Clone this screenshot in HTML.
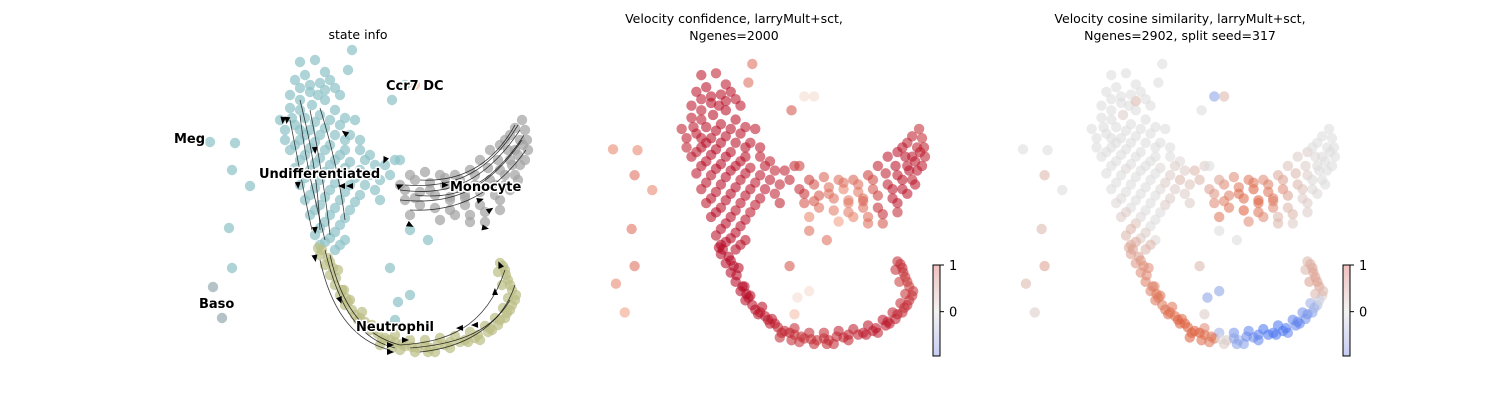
<!DOCTYPE html>
<html><head><meta charset="utf-8">
<style>
body{margin:0;background:#fff;}
svg{display:block;font-family:"DejaVu Sans","Liberation Sans",sans-serif;}
.lbl{font-weight:bold;font-size:13px;fill:#000;stroke:#fff;stroke-width:3px;paint-order:stroke;stroke-linejoin:round;}
.ttl{font-size:12.5px;fill:#000;text-anchor:middle;}
.tk{font-size:13px;fill:#000;}
</style></head>
<body>
<svg id="chart" width="1500" height="400" viewBox="0 0 1500 400" xmlns="http://www.w3.org/2000/svg">
<text class="ttl" x="358" y="39">state info</text>
<text class="ttl" x="734" y="23">Velocity confidence, larryMult+sct,</text>
<text class="ttl" x="734" y="40">Ngenes=2000</text>
<text class="ttl" x="1180" y="23">Velocity cosine similarity, larryMult+sct,</text>
<text class="ttl" x="1180" y="40">Ngenes=2902, split seed=317</text>
<g id="p1"></g>
<g id="streams"></g>
<g id="p2"></g>
<g id="p3"></g>
<g id="labels"></g>
<g id="cbars"></g>
</svg>
<script>
// embedding coordinates (units) and per-cell values: x y cluster confidence cosine
const cellData = `
300 62 U .9 .05;305 75 U .95 .1;310 85 U .95 0;325 72 U .9 .05;330 80 U .95 .1;318 95 U .95 0;300 100 U .9 .05;290 108 U .9 0;312 105 U .95 .2;325 100 U .95 .05;340 95 U .9 .1;335 110 U .95 0;320 115 U .95 .05;305 118 U .95 .1;295 125 U .9 0;285 130 U .9 .05;310 130 U .95 0;325 128 U .95 .1;340 125 U .95 .05;350 135 U .9 .1;300 140 U .95 0;315 142 U .97 .05;330 145 U .95 .1;345 150 U .95 .05;290 150 U .9 0;305 155 U .95 .1;320 158 U .97 0;335 160 U .95 .05;350 162 U .9 .15;365 160 U .9 .2;375 165 U .85 .2;295 168 U .9 .1;310 170 U .95 .05;325 172 U .97 0;340 175 U .95 .1;355 178 U .9 .2;300 185 U .9 .1;315 188 U .95 .05;330 190 U .97 .1;345 192 U .95 .1;360 195 U .9 .2;375 190 U .85 .2;305 200 U .9 .15;320 205 U .95 .1;335 208 U .95 .05;350 210 U .9 .1;310 215 U .95 .2;325 222 U .97 .25;340 225 U .95 .1;315 235 U .95 .3;330 238 U .97 .2;345 240 U .95 .15;320 245 U .97 .35;335 250 U .97 .3;300 110 U .9 0;355 120 U .9 .05;345 140 U .95 .1;280 120 U .85 .05;290 95 U .9 0;315 60 U .85 .05;325 90 U .95 .3;360 150 U .9 .1;370 175 U .9 .3;385 165 U .85 .3;380 200 U .85 .2;395 160 U .8 .2;
295 80 U .9 .05;310 92 U .95 .1;320 83 U .95 0;335 88 U .9 .05;300 88 U .9 .1;292 118 U .9 .05;315 122 U .97 0;330 120 U .95 .1;345 118 U .9 .05;305 135 U .97 .05;320 135 U .97 .1;335 135 U .95 0;295 145 U .9 .1;310 148 U .97 .05;325 150 U .97 .1;340 155 U .95 .05;300 160 U .95 .1;315 163 U .97 .15;330 165 U .97 .05;345 168 U .95 .1;360 170 U .9 .2;305 178 U .95 .1;320 180 U .97 .05;335 183 U .97 .1;350 185 U .95 .15;365 185 U .9 .2;310 195 U .95 .15;325 197 U .97 .1;340 200 U .95 .1;355 202 U .9 .2;315 210 U .97 .2;330 215 U .97 .15;345 218 U .95 .1;320 228 U .97 .3;335 232 U .97 .2;325 242 U .97 .35;340 245 U .95 .3;300 130 U .9 .05;285 140 U .85 .05;360 140 U .9 .1;370 155 U .85 .15;380 180 U .85 .25;390 175 U .85 .3;
352 50 U .5 .05;348 70 U .5 .05;392 100 U .6 .1;405 85 U .1 -.4;210 142 U .4 .05;235 143 U .4 .05;250 186 U .4 .05;232 170 U .5 .3;229 228 U .5 .3;232 268 U .5 .4;213 287 B .4 .3;222 318 B .3 .2;400 160 U .7 .1;390 268 U .6 .3;428 240 U .5 .1;410 230 U .5 .1;398 302 U .1 -.4;410 295 U .1 -.4;395 320 U .2 .2;415 85 C .1 .3;
400 185 M .8 .4;415 180 M .6 .5;430 183 M .5 .6;445 185 M .4 .7;460 188 M .45 .6;475 185 M .6 .5;490 180 M .85 .3;500 170 M .9 .2;510 160 M .9 .15;515 150 M .9 .1;520 140 M .85 .05;525 130 M .8 .05;522 120 M .8 .05;510 135 M .85 .1;500 145 M .9 .2;490 150 M .9 .2;480 160 M .85 .25;470 170 M .7 .35;455 175 M .55 .5;440 175 M .5 .6;425 172 M .55 .5;410 175 M .7 .4;405 200 M .6 .5;420 205 M .5 .6;435 208 M .45 .7;450 210 M .45 .6;465 205 M .5 .5;480 205 M .8 .3;495 195 M .9 .2;505 185 M .9 .15;515 175 M .85 .1;520 165 M .9 .1;528 150 M .85 .05;410 215 M .4 .6;440 220 M .3 .5;470 215 M .5 .3;485 222 M .6 .2;500 210 M .8 .2;
405 190 M .75 .45;420 192 M .6 .55;435 195 M .5 .65;450 197 M .45 .7;465 195 M .5 .6;480 192 M .7 .4;495 185 M .9 .25;505 175 M .92 .15;512 165 M .92 .1;518 155 M .9 .1;523 145 M .88 .05;508 150 M .92 .15;498 160 M .92 .2;488 168 M .85 .3;475 175 M .65 .4;460 180 M .5 .55;445 178 M .5 .6;430 190 M .5 .65;450 200 M .45 .65;465 198 M .55 .55;485 212 M .8 .3;470 222 M .5 .3;455 215 M .4 .5;415 198 M .6 .55;500 200 M .9 .2;510 190 M .9 .15;518 180 M .9 .1;525 160 M .88 .05;527 140 M .85 .05;515 128 M .85 .05;505 140 M .9 .1;
320 255 N .97 .4;325 265 N .97 .45;330 275 N .97 .5;335 285 N .97 .55;340 295 N .97 .55;345 305 N .95 .6;355 315 N .95 .65;365 322 N .9 .65;375 330 N .85 .7;385 338 N .85 .7;395 342 N .8 .65;405 346 N .75 .6;418 348 N .75 .2;430 348 N .8 -.3;445 345 N .85 -.5;460 342 N .85 -.7;475 338 N .9 -.7;488 332 N .9 -.6;498 325 N .85 -.5;505 318 N .8 -.4;510 310 N .8 -.2;515 300 N .75 .2;512 290 N .7 .4;508 280 N .75 .4;505 270 N .8 .4;500 263 N .8 .3;328 258 N .97 .4;338 270 N .97 .5;350 300 N .95 .6;362 312 N .95 .6;372 325 N .9 .65;395 335 N .8 .5;410 340 N .8 -.3;425 340 N .8 -.5;440 338 N .85 -.6;455 336 N .85 -.7;470 332 N .9 -.7;485 326 N .9 -.6;495 318 N .85 -.5;503 308 N .8 -.3;508 298 N .75 .3;502 285 N .7 .4;498 272 N .8 .3;318 248 N .97 .35;344 290 N .97 .55;380 345 N .8 .7;400 350 N .75 .6;435 352 N .8 -.4;480 340 N .85 -.6;
322 250 N .97 .4;330 262 N .97 .45;336 278 N .97 .5;342 290 N .97 .55;348 302 N .96 .6;352 310 N .95 .6;360 318 N .92 .65;368 326 N .9 .7;378 334 N .85 .7;390 340 N .82 .7;402 344 N .78 .6;412 347 N .76 .1;425 346 N .8 -.4;438 344 N .82 -.55;450 342 N .85 -.65;465 340 N .88 -.7;478 335 N .9 -.7;490 328 N .88 -.6;500 320 N .85 -.5;507 313 N .8 -.3;512 305 N .78 -.1;516 295 N .75 .3;510 285 N .72 .4;506 275 N .78 .4;503 266 N .8 .35;333 268 N .97 .5;346 298 N .96 .6;358 320 N .92 .65;370 330 N .88 .7;382 340 N .84 .7;392 348 N .8 .65;415 352 N .78 .2;428 352 N .8 -.4;450 348 N .84 -.6;468 342 N .88 -.7;492 330 N .88 -.6`;
const labelNames = ["Ccr7 DC","Meg","Undifferentiated","Monocyte","Baso","Neutrophil"];
const labelX = [386,174,259,450,199,356];
const labelY = [85,138,173,186,303,326];
const cbTicks = [1,0];
const cbMin = -0.95, cbMax = 1;

const cells = cellData.trim().split(";").map(s=>s.trim()).filter(s=>s).map(s=>{const a=s.split(/\s+/);return {x:+a[0],y:+a[1],c:a[2],conf:+a[3],cos:+a[4]};});
const NS="http://www.w3.org/2000/svg";
function mk(tag,attrs,parent){const e=document.createElementNS(NS,tag);for(const k in attrs)e.setAttribute(k,attrs[k]);parent.appendChild(e);return e;}
const ax = [
  {x:v=>v, y:v=>v},
  {x:v=>613+(v-210)*0.981, y:v=>64+(v-50)*0.927},
  {x:v=>1023+(v-210)*0.981, y:v=>64+(v-50)*0.927}
];
const catCol={U:"#8fc3c9",M:"#a3a3a3",N:"#bcbf86",B:"#98aab2",C:"#f4bd9f"};
function lerp(a,b,t){return a.map((v,i)=>Math.round(v+(b[i]-v)*t));}
function rdbu(v){
  const s=[[247,247,247],[240,150,120],[205,70,65],[180,5,35]];
  if(v<0){return "rgb("+lerp([247,247,247],[120,150,220],Math.min(1,-v)).join(",")+")";}
  const u=Math.min(1,v)*3, i=Math.min(2,Math.floor(u));return "rgb("+lerp(s[i],s[i+1],u-i).join(",")+")";
}
function coolwarm(v){
  const w=Math.max(0,v-0.12);
  if(v>=0) return "rgb("+lerp([221,221,221],[222,95,60],Math.min(1,w/0.6)).join(",")+")";
  return "rgb("+lerp([221,221,221],[80,120,240],Math.min(1,-v/0.7)).join(",")+")";
}
const p1=document.getElementById("p1"),p2=document.getElementById("p2"),p3=document.getElementById("p3");
cells.forEach(d=>{
  let e=mk("circle",{cx:ax[0].x(d.x),cy:ax[0].y(d.y),r:5.2,fill:catCol[d.c],"fill-opacity":0.72},p1);
  
  
  e=mk("circle",{cx:ax[1].x(d.x),cy:ax[1].y(d.y),r:5.2,fill:rdbu(d.conf),"fill-opacity":0.58},p2);
  
  
  e=mk("circle",{cx:ax[2].x(d.x),cy:ax[2].y(d.y),r:5.2,fill:coolwarm(d.cos),"fill-opacity":0.58},p3);
  
  
});
const st=document.getElementById("streams");
const flows=[
 "M300 115 C305 160 315 200 325 240","M310 110 C318 150 325 190 330 235","M290 120 C298 160 305 200 312 230",
 "M320 108 C330 140 340 180 345 220","M300 100 C310 140 318 180 320 230",
 "M400 190 C440 195 480 190 520 130","M400 200 C445 205 485 195 522 140","M405 185 C445 188 485 180 518 125",
 "M410 210 C450 212 490 200 526 150","M420 180 C455 182 490 170 515 125","M415 195 C455 200 490 188 524 135",
 "M330 255 C340 300 360 335 400 345","M320 260 C330 305 350 340 390 350","M325 250 C337 300 355 338 395 348",
 "M410 348 C450 345 490 335 510 300","M420 352 C460 348 500 330 515 285","M400 345 C445 342 485 330 505 270"];
flows.forEach(f=>{const e=mk("path",{d:f,fill:"none",stroke:"#000","stroke-width":0.8,"stroke-opacity":0.75},st);
 
 });
const arrows=[[283,120,1.7],[287,120,1.7],[315,150,1.5],[298,185,1.5],[315,230,1.5],[345,133,-2.5],[342,186,3.14],[350,186,3.14],[385,160,2],[400,186,-.4],[445,185,0],[480,200,-.3],[490,210,-.6],[485,228,0.2],[410,225,0.5],[315,258,1.4],[340,300,1.2],[390,345,0],[405,340,0],[460,328,3.1],[475,325,3.1],[495,292,-1.6],[500,265,-2],[390,352,0]];
arrows.forEach(a=>{const e=mk("path",{d:"M4 0 L-3 -3 L-3 3 Z",fill:"#000",transform:`translate(${a[0]},${a[1]}) rotate(${a[2]*180/Math.PI})`},st);
 
 });
const lg=document.getElementById("labels");
labelNames.forEach((n,i)=>{const t=mk("text",{x:labelX[i],y:labelY[i]+5,class:"lbl"},lg);t.textContent=n;
 
 });
const cb=document.getElementById("cbars");
const defs=mk("defs",{},cb);
const g1=mk("linearGradient",{id:"gcb",x1:0,y1:1,x2:0,y2:0},defs);
mk("stop",{offset:"0","stop-color":"#c7cdf2"},g1);mk("stop",{offset:"0.49","stop-color":"#f2f2f2"},g1);mk("stop",{offset:"1","stop-color":"#efc0bd"},g1);
const cbY=v=>356-(v-cbMin)/(cbMax-cbMin)*91;
[933,1343].forEach((x,k)=>{
  const r=mk("rect",{x:x,y:265,width:7,height:91,fill:"url(#gcb)",stroke:"#000","stroke-width":1},cb);
  
  
  cbTicks.forEach(v=>{
    mk("line",{x1:x+7,x2:x+11,y1:cbY(v),y2:cbY(v),stroke:"#000"},cb);
    const t=mk("text",{x:x+16,y:cbY(v)+5,class:"tk"},cb);t.textContent=String(v);
    
    
  });
});
</script>
</body></html>
